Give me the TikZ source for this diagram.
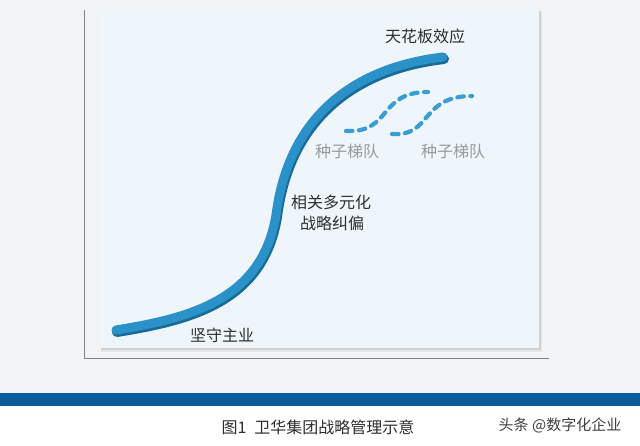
\documentclass[tikz,border=0pt]{standalone}
\usepackage{fontspec}
\newfontfamily\cjk{Noto Sans CJK SC}
\definecolor{bggray}{HTML}{F1F3F4}
\definecolor{panel}{HTML}{EEF6FB}
\definecolor{band}{HTML}{0B5C9C}
\definecolor{barlight}{HTML}{2A92C8}
\definecolor{bardark}{HTML}{1A6A98}
\definecolor{dashblue}{HTML}{3A9ED0}
\definecolor{txt}{HTML}{2E2E2E}
\definecolor{graytxt}{HTML}{9A9A9A}
\tikzset{
  lbl/.style={font=\cjk\fontsize{16}{18}\selectfont, text=txt, inner sep=0pt, align=center},
  seedlbl/.style={font=\cjk\fontsize{16}{18}\selectfont, text=graytxt, inner sep=0pt},
  seeddash/.style={draw=dashblue, line width=4.2pt, line cap=round, dash pattern=on 6.5pt off 6.5pt},
  axisline/.style={draw=black!50, line width=0.9pt},
}
\begin{document}
\begin{tikzpicture}[x=1pt,y=-1pt]
\useasboundingbox (0,0) rectangle (640,446);
% backgrounds
\fill[bggray] (0,0) rectangle (640,393);
\fill[band] (0,393) rectangle (640,406);
\fill[white] (0,406) rectangle (640,446);
% axes
\coordinate (axtop) at (84,10);
\coordinate (axorig) at (84,358);
\coordinate (axright) at (549,358);
\draw[axisline] (axtop) -- (axorig) -- (axright);
% panel with soft shadow
\fill[black!10] (101,11) rectangle (542,352);
\fill[black!18] (101,11) rectangle (541,350.5);
\fill[panel] (100,10) rectangle (539,348);
% S curve bar
\coordinate (s0) at (116,330);
\coordinate (s1) at (276,215);
\coordinate (s2) at (443,57);
\draw[bardark, line width=10pt, line cap=round, transform canvas={shift={(1pt,-2pt)}}]
  (s0) .. controls (190,318) and (262,300) .. (s1) .. controls (288,120) and (350,68) .. (s2);
\draw[barlight, line width=9pt, line cap=round]
  (s0) .. controls (190,318) and (262,300) .. (s1) .. controls (288,120) and (350,68) .. (s2);
% dashed seed curves
\coordinate (d1a) at (346,131);
\coordinate (d1b) at (428,92);
\coordinate (d2a) at (392,134);
\coordinate (d2b) at (472,96);
\draw[seeddash] (d1a) .. controls (392,133) and (378,92) .. (d1b);
\draw[seeddash] (d2a) .. controls (432,137) and (420,96) .. (d2b);
% labels
\node[lbl] (ceil) at (425,36) {天花板效应};
\node[seedlbl] (seed1) at (347,151) {种子梯队};
\node[seedlbl] (seed2) at (453,151) {种子梯队};
\node[lbl] (div1) at (331,202) {相关多元化};
\node[lbl] (div2) at (332,223) {战略纠偏};
\node[lbl] (core) at (222,335) {坚守主业};
% caption
\node[font=\cjk\fontsize{16}{18}\selectfont, text=txt, inner sep=0pt] (cap) at (318,427) {图1\hspace{8pt}卫华集团战略管理示意};
\node[font=\cjk\fontsize{15}{17}\selectfont, text=black!75, inner sep=0pt] (wm) at (560,425) {头条 @数字化企业};
\end{tikzpicture}
\end{document}
